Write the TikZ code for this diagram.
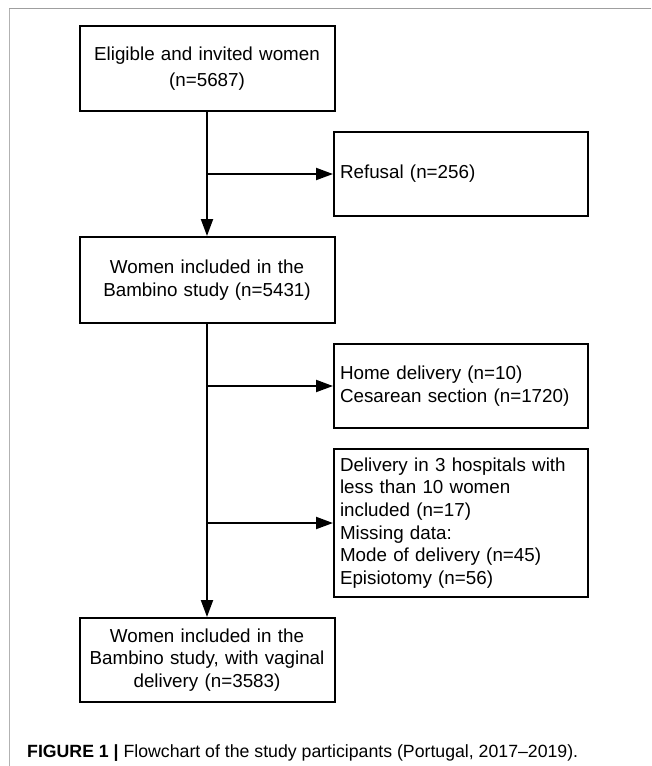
\documentclass[tikz,border=0pt]{standalone}
\usepackage{fontspec}
\setmainfont{Liberation Sans}
\usetikzlibrary{arrows.meta}
\begin{document}
\begin{tikzpicture}[x=1pt,y=-1pt,
  boxfont/.style={font=\fontsize{18.8}{22.7}\selectfont},
  lbox/.style={draw=black, line width=2pt, minimum width=255pt, inner xsep=4pt, inner ysep=0pt,
    text width=247pt, align=center, boxfont},
  rbox/.style={draw=black, line width=2pt, minimum width=254pt, inner xsep=6pt, inner ysep=0pt,
    text width=242pt, align=left, boxfont},
  arr/.style={draw=black, line width=2pt, -{Triangle[length=17pt,width=12pt]}},
  plain/.style={draw=black, line width=2pt}]
\useasboundingbox (0,0) rectangle (651,766);
% frame
\draw[gray!75, line width=1.6pt] (9.3,8.5) -- (651,8.5);
\draw[gray!60, line width=1pt] (9.3,8.5) -- (9.3,766);
% boxes
\node[lbox, minimum height=85pt, font=\fontsize{18.8}{26}\selectfont] (b1) at (207,68.3)
  {Eligible and invited women\\(n=5687)};
\node[rbox, minimum height=84pt] (ref) at (461,174) {Refusal (n=256)};
\node[lbox, minimum height=86pt] (b2) at (207,280)
  {Women included in the\\Bambino study (n=5431)};
\node[rbox, minimum height=84pt] (ex1) at (461,386)
  {Home delivery (n=10)\\Cesarean section (n=1720)};
\node[rbox, minimum height=148pt] (ex2) at (461,523)
  {Delivery in 3 hospitals with\\less than 10 women\\included (n=17)\\Missing data:\\Mode of delivery (n=45)\\Episiotomy (n=56)};
\node[lbox, minimum height=84pt] (b5) at (207,660)
  {Women included in the\\Bambino study, with vaginal\\delivery (n=3583)};
% connectors
\draw[arr] (b1.south) -- (b2.north);
\draw[arr] (ref.west -| b1.south) -- (ref.west);
\draw[arr] (b2.south) -- (b5.north);
\draw[arr] (ex1.west -| b2.south) -- (ex1.west);
\draw[arr] (ex2.west -| b2.south) -- (ex2.west);
% caption
\node[anchor=base west, inner sep=0pt, font=\fontsize{17.7}{21}\selectfont] (cap) at (27,757)
  {\textbf{FIGURE 1 |} Flowchart of the study participants (Portugal, 2017–2019).};
\end{tikzpicture}
\end{document}
